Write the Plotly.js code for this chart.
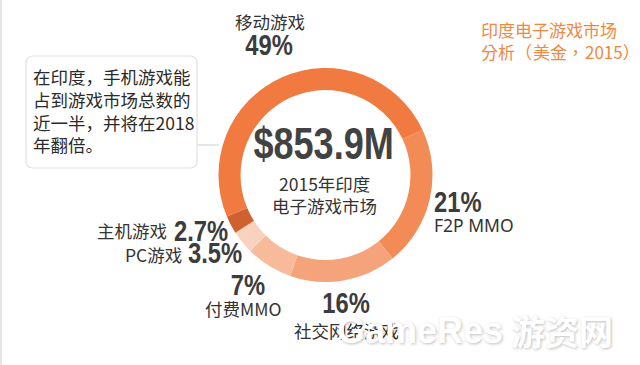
<!DOCTYPE html>
<html>
<head>
<meta charset="utf-8">
<script src="https://cdn.plot.ly/plotly-3.0.1.min.js"></script>
<style>
html,body{margin:0;padding:0;background:#fff;}
#chart{width:640px;height:365px;}
</style>
</head>
<body>
<div id="chart"></div>
<script>
// ---- data ----
var categories = ['F2P MMO', '社交网络游戏', '付费MMO', 'PC游戏', '主机游戏', '移动游戏'];
var shares = [21, 16, 7, 3.5, 2.7, 49];
var shareLabels = ['21%', '16%', '7%', '3.5%', '2.7%', '49%'];
var totalLabel = '$853.9M';
var centerText = ['2015年印度', '电子游戏市场'];
var titleLines = ['印度电子游戏市场', '分析（美金，2015）'];
var noteLines = ['在印度，手机游戏能', '占到游戏市场总数的', '近一半，并将在2018', '年翻倍。'];
var sliceColors = ['#F28B55', '#F5A37B', '#F7BA9B', '#F9D1BD', '#CF602F', '#F07A3F'];

// ---- helpers (pixel -> paper) ----
var W = 640, H = 365;
function px(x) { return x / W; }
function py(y) { return 1 - y / H; }

var cx = 325.5, cy = 175, R = 107;

var CJK = '"Noto Sans CJK SC", "Noto Sans", sans-serif';
var CJKTC = '"Noto Sans CJK TC", "Noto Sans CJK SC", sans-serif';
var NUM = '"Liberation Sans", Arial, sans-serif';
var numColor = '#3c3c3c', lblColor = '#333333';
var CJKSIZE = 17.5;

// keep full-width punctuation at its full cell (letter-spacing stops the browser trimming it)
function widePunct(s) {
  var P = '（），';
  var out = '';
  for (var i = 0; i < s.length; i++) {
    var c = s[i];
    out += P.indexOf(c) >= 0 ? '<span style="letter-spacing:1px">' + c + '</span>' : c;
  }
  return out;
}

var trace = {
  type: 'pie',
  labels: categories,
  values: shares,
  sort: false,
  direction: 'clockwise',
  rotation: 65,
  hole: 0.794,
  textinfo: 'none',
  hoverinfo: 'none',
  marker: {colors: sliceColors, line: {width: 0}},
  domain: {x: [px(cx - R), px(cx + R)], y: [py(cy + R), py(cy - R)]},
  showlegend: false
};

var narrowIdx = [];
function ann(text, x, y, size, family, color, xanchor, extra) {
  var a = {
    text: text, x: px(x), y: py(y), xref: 'paper', yref: 'paper',
    showarrow: false, xanchor: xanchor || 'center', yanchor: 'middle',
    font: {size: size, family: family, color: color}
  };
  if (extra) { for (var k in extra) a[k] = extra[k]; }
  return a;
}

var annotations = [];
function add(a, narrow) {
  if (narrow) narrowIdx.push(annotations.length);
  annotations.push(a);
}

// center
add(ann('<b>' + totalLabel + '</b>', cx - 2, 144, 44, NUM, '#424242'), true);
add(ann(centerText[0], cx - 1, 183, CJKSIZE, CJK, lblColor));
add(ann(centerText[1], cx - 1, 205, CJKSIZE, CJK, lblColor));
// mobile
add(ann(categories[5], 270, 22, CJKSIZE, CJK, lblColor));
add(ann('<b>' + shareLabels[5] + '</b>', 269, 45, 29, NUM, numColor), true);
// F2P
add(ann('<b>' + shareLabels[0] + '</b>', 432, 202, 29, NUM, numColor, 'left'), true);
add(ann(categories[0], 432, 225, CJKSIZE, 'Noto Sans, sans-serif', lblColor, 'left'));
// social
add(ann('<b>' + shareLabels[1] + '</b>', 346, 303, 29, NUM, numColor), true);
add(ann(categories[1], 346, 330, CJKSIZE, CJK, lblColor));
// paid MMO
add(ann('<b>' + shareLabels[2] + '</b>', 248, 285, 29, NUM, numColor), true);
add(ann(categories[2], 243, 308, CJKSIZE, CJK, lblColor));
// console
add(ann(categories[4], 169, 231, CJKSIZE, CJK, lblColor, 'right'));
add(ann('<b>' + shareLabels[4] + '</b>', 172, 231, 29, NUM, numColor, 'left'), true);
// PC
add(ann(categories[3], 184, 254, CJKSIZE, CJK, lblColor, 'right'));
add(ann('<b>' + shareLabels[3] + '</b>', 186, 253, 29, NUM, numColor, 'left'), true);
// title
add(ann(titleLines[0] + '<br>' + widePunct(titleLines[1]), 479, 40, 17, CJKTC, '#F0883F', 'left', {align: 'left'}));
// note
add(ann(noteLines.join('<br>'), 31, 110, CJKSIZE, CJK, '#2a2a2a', 'left', {align: 'left'}));
// watermark
var wm1 = ann('<b>GameRes</b>', 420, 330, 36, '"Liberation Sans", sans-serif', '#ffffff', 'center');
wm1.font.shadow = '1px 1px 3px rgba(0,0,0,0.25)';
add(wm1);
var wm2 = ann('<b>游资网</b>', 562, 330, 34, CJK, '#ffffff', 'center');
wm2.font.shadow = '1px 1px 3px rgba(0,0,0,0.25)';
add(wm2);

// rounded note box
var bx0 = 26, bx1 = 197, by0 = 56, by1 = 168, r = 7;
function P(x, y) { return px(x) + ',' + py(y); }
var boxPath = 'M ' + P(bx0 + r, by0) + ' L ' + P(bx1 - r, by0) +
  ' Q ' + P(bx1, by0) + ' ' + P(bx1, by0 + r) +
  ' L ' + P(bx1, by1 - r) + ' Q ' + P(bx1, by1) + ' ' + P(bx1 - r, by1) +
  ' L ' + P(bx0 + r, by1) + ' Q ' + P(bx0, by1) + ' ' + P(bx0, by1 - r) +
  ' L ' + P(bx0, by0 + r) + ' Q ' + P(bx0, by0) + ' ' + P(bx0 + r, by0) + ' Z';

var shapes = [
  {type: 'line', xref: 'paper', yref: 'paper', x0: px(bx1), x1: px(219), y0: py(145), y1: py(145),
   line: {color: '#dedede', width: 1.5}, layer: 'below'},
  {type: 'path', xref: 'paper', yref: 'paper', path: boxPath,
   line: {color: '#e2e2e2', width: 1.2}, fillcolor: '#ffffff', layer: 'below'},
  {type: 'line', xref: 'paper', yref: 'paper', x0: px(1), x1: px(1), y0: 0, y1: 1,
   line: {color: '#e6e6e6', width: 2}, layer: 'below'}
];

var layout = {
  width: W, height: H,
  margin: {l: 0, r: 0, t: 0, b: 0},
  paper_bgcolor: '#ffffff', plot_bgcolor: '#ffffff',
  showlegend: false,
  annotations: annotations,
  shapes: shapes
};

Plotly.newPlot('chart', [trace], layout, {staticPlot: true, displayModeBar: false}).then(function (gd) {
  // condense the bold numeric labels (Arial-Narrow-like look)
  var SX = 0.82;
  narrowIdx.forEach(function (i) {
    var g = gd.querySelector('.annotation[data-index="' + i + '"]');
    if (!g) return;
    var t = g.querySelector('text.annotation-text');
    if (!t) return;
    var bb = t.getBBox();
    var xa = annotations[i].xanchor;
    var ox = xa === 'left' ? bb.x : (xa === 'right' ? bb.x + bb.width : bb.x + bb.width / 2);
    var prev = t.getAttribute('transform') || '';
    t.setAttribute('transform', prev + ' translate(' + ox + ',0) scale(' + SX + ',1) translate(' + (-ox) + ',0)');
  });
});
</script>
</body>
</html>
